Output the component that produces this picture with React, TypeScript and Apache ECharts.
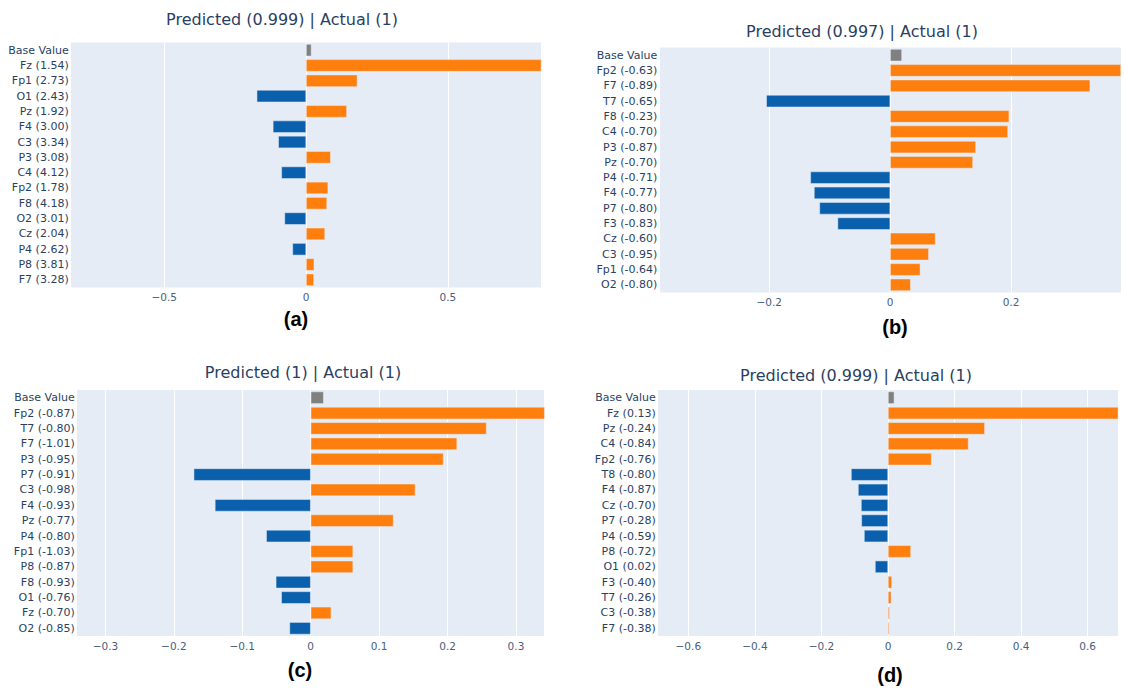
import React, { useEffect, useRef } from 'react';
import * as echarts from 'echarts';

// ---- Data ----
const aLabels = ['Base Value', 'Fz (1.54)', 'Fp1 (2.73)', 'O1 (2.43)', 'Pz (1.92)', 'F4 (3.00)', 'C3 (3.34)', 'P3 (3.08)', 'C4 (4.12)', 'Fp2 (1.78)', 'F8 (4.18)', 'O2 (3.01)', 'Cz (2.04)', 'P4 (2.62)', 'P8 (3.81)', 'F7 (3.28)'];
const aValues = [0.019, 0.83, 0.181, -0.174, 0.144, -0.117, -0.098, 0.087, -0.087, 0.078, 0.074, -0.076, 0.067, -0.048, 0.029, 0.028];

const bLabels = ['Base Value', 'Fp2 (-0.63)', 'F7 (-0.89)', 'T7 (-0.65)', 'F8 (-0.23)', 'C4 (-0.70)', 'P3 (-0.87)', 'Pz (-0.70)', 'P4 (-0.71)', 'F4 (-0.77)', 'P7 (-0.80)', 'F3 (-0.83)', 'Cz (-0.60)', 'C3 (-0.95)', 'Fp1 (-0.64)', 'O2 (-0.80)'];
const bValues = [0.0195, 0.382, 0.331, -0.205, 0.197, 0.195, 0.142, 0.137, -0.132, -0.126, -0.117, -0.087, 0.075, 0.064, 0.05, 0.034];

const cLabels = ['Base Value', 'Fp2 (-0.87)', 'T7 (-0.80)', 'F7 (-1.01)', 'P3 (-0.95)', 'P7 (-0.91)', 'C3 (-0.98)', 'F4 (-0.93)', 'Pz (-0.77)', 'P4 (-0.80)', 'Fp1 (-1.03)', 'P8 (-0.87)', 'F8 (-0.93)', 'O1 (-0.76)', 'Fz (-0.70)', 'O2 (-0.85)'];
const cValues = [0.019, 0.342, 0.257, 0.214, 0.194, -0.171, 0.153, -0.14, 0.121, -0.065, 0.062, 0.062, -0.051, -0.043, 0.03, -0.031];

const dLabels = ['Base Value', 'Fz (0.13)', 'Pz (-0.24)', 'C4 (-0.84)', 'Fp2 (-0.76)', 'T8 (-0.80)', 'F4 (-0.87)', 'Cz (-0.70)', 'P7 (-0.28)', 'P4 (-0.59)', 'P8 (-0.72)', 'O1 (0.02)', 'F3 (-0.40)', 'T7 (-0.26)', 'C3 (-0.38)', 'F7 (-0.38)'];
const dValues = [0.019, 0.692, 0.291, 0.242, 0.131, -0.111, -0.09, -0.081, -0.08, -0.072, 0.069, -0.039, 0.012, 0.01, 0.005, 0.004];

const titles = ['Predicted (0.999) | Actual (1)', 'Predicted (0.997) | Actual (1)', 'Predicted (1) | Actual (1)', 'Predicted (0.999) | Actual (1)'];
const tags = ['(a)', '(b)', '(c)', '(d)'];
const ranges = [0.83, 0.382, 0.342, 0.692];
const tickSteps = [0.5, 0.2, 0.1, 0.2];

// ---- Layout ----
const layout = [
  { grid: { left: 70.7, top: 42.5, width: 470.7, height: 245 }, split: 3, tx: 282, ty: 19, gx: 296, gy: 319 },
  { grid: { left: 659.3, top: 47.5, width: 466, height: 245 }, split: 4, tx: 862, ty: 31.5, gx: 895, gy: 327 },
  { grid: { left: 76.7, top: 390, width: 468, height: 246 }, split: 7, tx: 303, ty: 372.7, gx: 300, gy: 670 },
  { grid: { left: 657.7, top: 390, width: 460.6, height: 246 }, split: 7, tx: 856, ty: 375, gx: 890, gy: 675 },
];

const ORANGE = '#ff7f0e';
const BLUE = '#0a60ad';
const GRAY = '#808080';
const FONT = 'DejaVu Sans';

export default function App() {
  const ref = useRef<HTMLDivElement>(null);
  useEffect(() => {
    document.body.style.margin = '0';
    if (!ref.current) return;
    const chart = echarts.init(ref.current, undefined, { renderer: 'svg' });
    const labelSets = [aLabels, bLabels, cLabels, dLabels];
    const valueSets = [aValues, bValues, cValues, dValues];

    const fmt = (step: number) => (v: number) => {
      const q = v / step;
      if (Math.abs(q - Math.round(q)) > 1e-6) return '';
      const r = parseFloat(v.toFixed(3));
      if (r === 0) return '0';
      return r < 0 ? '\u2212' + String(Math.abs(r)) : String(r);
    };

    const option: any = {
      animation: false,
      grid: layout.map((l) => ({ ...l.grid, show: true, backgroundColor: '#E5ECF6', borderWidth: 0, containLabel: false })),
      xAxis: layout.map((l, i) => ({
        type: 'value',
        gridIndex: i,
        min: -ranges[i],
        max: ranges[i],
        splitNumber: l.split,
        axisLine: { show: false },
        axisTick: { show: false },
        splitLine: { show: true, lineStyle: { color: '#ffffff', width: 1 } },
        axisLabel: {
          formatter: fmt(tickSteps[i]),
          color: '#4a5d7e',
          fontFamily: FONT,
          fontSize: 10.5,
          margin: 4,
        },
      })),
      yAxis: layout.map((l, i) => ({
        type: 'category',
        gridIndex: i,
        data: labelSets[i],
        inverse: true,
        axisLine: { show: false },
        axisTick: { show: false },
        splitLine: { show: false },
        axisLabel: { interval: 0, color: '#2a3f5f', fontFamily: FONT, fontSize: 11, margin: 2 },
      })),
      series: valueSets.map((vals, i) => ({
        type: 'bar',
        xAxisIndex: i,
        yAxisIndex: i,
        barCategoryGap: '20%',
        data: vals.map((v, j) => ({
          value: v,
          itemStyle: { color: j === 0 ? GRAY : v >= 0 ? ORANGE : BLUE, borderColor: '#E5ECF6', borderWidth: 0.5 },
        })),
      })),
      graphic: [
        ...layout.map((l, i) => ({
          type: 'text',
          x: l.tx,
          y: l.ty,
          style: { text: titles[i], fill: '#2a3f5f', font: `16px "${FONT}"`, textAlign: 'center', textVerticalAlign: 'middle' },
        })),
        ...layout.map((l, i) => ({
          type: 'text',
          x: l.gx,
          y: l.gy,
          style: { text: tags[i], fill: '#000000', font: 'bold 20px "Liberation Sans"', textAlign: 'center', textVerticalAlign: 'middle' },
        })),
      ],
    };
    chart.setOption(option);
    return () => chart.dispose();
  }, []);
  return <div ref={ref} style={{ width: 1124, height: 689 }} />;
}
